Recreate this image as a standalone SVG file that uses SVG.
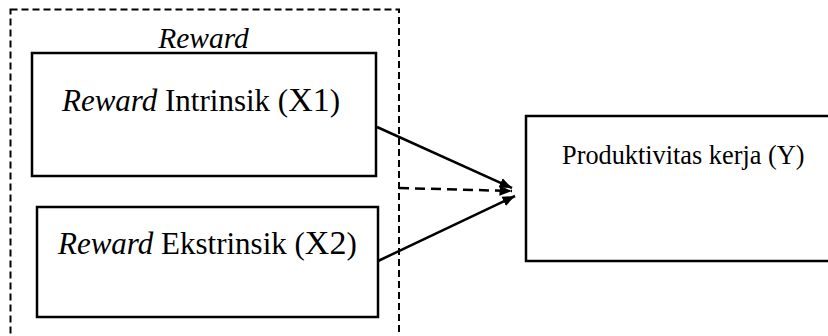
<svg xmlns="http://www.w3.org/2000/svg" width="828" height="336" viewBox="0 0 828 336">
<style>
.box{fill:#fff;stroke:#000;stroke-width:2.5}
.t{font-family:"Liberation Serif","Times New Roman",serif;fill:#000}
.it{font-style:italic}
.ln{stroke:#000;stroke-width:2.5;fill:none}
.dash{stroke-dasharray:10,6}
</style>
<defs>
<marker id="ah" viewBox="0 0 10 10" refX="10" refY="5" markerWidth="5" markerHeight="5" orient="auto" markerUnits="strokeWidth">
<path d="M0,1 L10,5 L0,9 Z" fill="#000"/>
</marker>
</defs>
<rect width="828" height="336" fill="#fff"/>
<g id="reward-group">
<rect x="10.5" y="9.5" width="388.5" height="340" fill="none" stroke="#000" stroke-width="2" stroke-dasharray="7,4"/>
<text class="t it" x="203.5" y="48" font-size="29.5" text-anchor="middle">Reward</text>
</g>
<g id="x1">
<rect class="box" x="32" y="53" width="344" height="123"/>
<text class="t" x="62" y="111" font-size="31"><tspan class="it">Reward</tspan> Intrinsik (<tspan font-size="34">X1</tspan>)</text>
</g>
<g id="x2">
<rect class="box" x="37" y="207" width="341" height="110"/>
<text class="t" x="58" y="254" font-size="31"><tspan class="it">Reward</tspan> Ekstrinsik (<tspan font-size="34">X2</tspan>)</text>
</g>
<g id="y">
<rect class="box" x="526" y="116" width="310" height="145"/>
<text class="t" x="562" y="164" font-size="26.3">Produktivitas kerja (Y)</text>
</g>
<g id="connectors">
<line class="ln" x1="377" y1="127" x2="512" y2="188" marker-end="url(#ah)"/>
<line class="ln dash" x1="399" y1="188" x2="512" y2="191" marker-end="url(#ah)"/>
<line class="ln" x1="378" y1="261" x2="515" y2="196" marker-end="url(#ah)"/>
</g>
</svg>
